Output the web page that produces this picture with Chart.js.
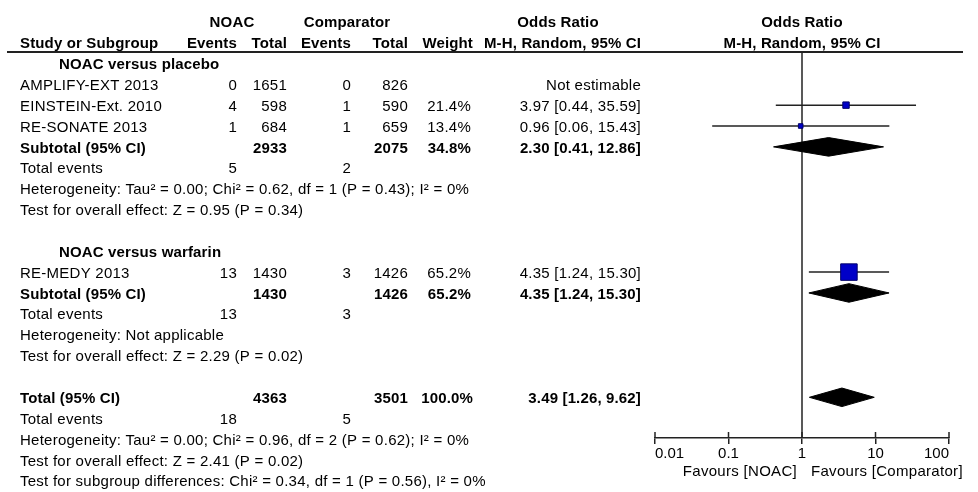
<!DOCTYPE html>
<html><head><meta charset="utf-8">
<script src="https://cdn.jsdelivr.net/npm/chart.js@4.4.1/dist/chart.umd.min.js"></script>
<style>html,body{margin:0;padding:0;background:#fff;}canvas{display:block;}</style>
</head><body>
<canvas id="c" width="978" height="492"></canvas>
<script>
// ---------- data ----------
const studyNames   = ['AMPLIFY-EXT 2013', 'EINSTEIN-Ext. 2010', 'RE-SONATE 2013', 'RE-MEDY 2013'];
const noacEvents   = [0, 4, 1, 13];
const noacTotal    = [1651, 598, 684, 1430];
const compEvents   = [0, 1, 1, 3];
const compTotal    = [826, 590, 659, 1426];
const studyWeight  = [null, 21.4, 13.4, 65.2];
const studyOR      = [null, 3.97, 0.96, 4.35];
const studyLo      = [null, 0.44, 0.06, 1.24];
const studyHi      = [null, 35.59, 15.43, 15.30];

const groupTitles      = ['NOAC versus placebo', 'NOAC versus warfarin'];
const groupStudies     = [[0, 1, 2], [3]];
const subNoacTotal     = [2933, 1430];
const subCompTotal     = [2075, 1426];
const subWeight        = [34.8, 65.2];
const subOR            = [2.30, 4.35];
const subLo            = [0.41, 1.24];
const subHi            = [12.86, 15.30];
const subNoacEvents    = [5, 13];
const subCompEvents    = [2, 3];
const subHetero        = ['Heterogeneity: Tau\u00B2 = 0.00; Chi\u00B2 = 0.62, df = 1 (P = 0.43); I\u00B2 = 0%', 'Heterogeneity: Not applicable'];
const subOverall       = ['Test for overall effect: Z = 0.95 (P = 0.34)', 'Test for overall effect: Z = 2.29 (P = 0.02)'];

const totalNoacTotal   = 4363;
const totalCompTotal   = 3501;
const totalWeight      = 100.0;
const totalOR          = 3.49;
const totalLo          = 1.26;
const totalHi          = 9.62;
const totalNoacEvents  = 18;
const totalCompEvents  = 5;
const totalHetero      = 'Heterogeneity: Tau\u00B2 = 0.00; Chi\u00B2 = 0.96, df = 2 (P = 0.62); I\u00B2 = 0%';
const totalOverall     = 'Test for overall effect: Z = 2.41 (P = 0.02)';
const subgroupDiff     = 'Test for subgroup differences: Chi\u00B2 = 0.34, df = 1 (P = 0.56), I\u00B2 = 0%';

const tickValues = [0.01, 0.1, 1, 10, 100];
const tickLabels = ['0.01', '0.1', '1', '10', '100'];
const favoursLeft  = 'Favours [NOAC]';
const favoursRight = 'Favours [Comparator]';

// ---------- layout / style ----------
const FONT = '"Liberation Sans", Arial, sans-serif';
const FS = 15;
const TEXT_DY = 1.5;
const COL = { name: 20, groupTitle: 59, nEv: 237, nTot: 287, cEv: 351, cTot: 408, wt: 471, or: 641 };
const DIAMOND_HALF = 0.445;

const fmtOR = (e, l, h) => e.toFixed(2) + ' [' + l.toFixed(2) + ', ' + h.toFixed(2) + ']';
const fmtW = w => w.toFixed(1) + '%';

// ---------- build rows ----------
const rows = [];
const studyRow = [], subRow = [];
let r = 0;
groupTitles.forEach((title, g) => {
  rows.push({ row: r, cells: [{ text: title, x: COL.groupTitle, align: 'left', bold: true }] }); r++;
  groupStudies[g].forEach(i => {
    studyRow[i] = r;
    rows.push({ row: r, cells: [
      { text: studyNames[i], x: COL.name, align: 'left' },
      { text: String(noacEvents[i]), x: COL.nEv, align: 'right' },
      { text: String(noacTotal[i]), x: COL.nTot, align: 'right' },
      { text: String(compEvents[i]), x: COL.cEv, align: 'right' },
      { text: String(compTotal[i]), x: COL.cTot, align: 'right' },
      { text: studyWeight[i] == null ? '' : fmtW(studyWeight[i]), x: COL.wt, align: 'right' },
      { text: studyOR[i] == null ? 'Not estimable' : fmtOR(studyOR[i], studyLo[i], studyHi[i]), x: COL.or, align: 'right' }
    ]}); r++;
  });
  subRow[g] = r;
  rows.push({ row: r, cells: [
    { text: 'Subtotal (95% CI)', x: COL.name, align: 'left', bold: true },
    { text: String(subNoacTotal[g]), x: COL.nTot, align: 'right', bold: true },
    { text: String(subCompTotal[g]), x: COL.cTot, align: 'right', bold: true },
    { text: fmtW(subWeight[g]), x: COL.wt, align: 'right', bold: true },
    { text: fmtOR(subOR[g], subLo[g], subHi[g]), x: COL.or, align: 'right', bold: true }
  ]}); r++;
  rows.push({ row: r, cells: [
    { text: 'Total events', x: COL.name, align: 'left' },
    { text: String(subNoacEvents[g]), x: COL.nEv, align: 'right' },
    { text: String(subCompEvents[g]), x: COL.cEv, align: 'right' }
  ]}); r++;
  rows.push({ row: r, cells: [{ text: subHetero[g], x: COL.name, align: 'left' }] }); r++;
  rows.push({ row: r, cells: [{ text: subOverall[g], x: COL.name, align: 'left' }] }); r++;
  r++; // blank
});
const totalRow = r;
rows.push({ row: r, cells: [
  { text: 'Total (95% CI)', x: COL.name, align: 'left', bold: true },
  { text: String(totalNoacTotal), x: COL.nTot, align: 'right', bold: true },
  { text: String(totalCompTotal), x: COL.cTot, align: 'right', bold: true },
  { text: fmtW(totalWeight), x: COL.wt + 2, align: 'right', bold: true },
  { text: fmtOR(totalOR, totalLo, totalHi), x: COL.or, align: 'right', bold: true }
]}); r++;
rows.push({ row: r, cells: [
  { text: 'Total events', x: COL.name, align: 'left' },
  { text: String(totalNoacEvents), x: COL.nEv, align: 'right' },
  { text: String(totalCompEvents), x: COL.cEv, align: 'right' }
]}); r++;
rows.push({ row: r, cells: [{ text: totalHetero, x: COL.name, align: 'left' }] }); r++;
rows.push({ row: r, cells: [{ text: totalOverall, x: COL.name, align: 'left' }] }); r++;
rows.push({ row: r, cells: [{ text: subgroupDiff, x: COL.name, align: 'left' }] }); r++;

// header rows
rows.push({ row: -2, cells: [
  { text: 'NOAC', x: 232, align: 'center', bold: true },
  { text: 'Comparator', x: 347, align: 'center', bold: true },
  { text: 'Odds Ratio', x: 558, align: 'center', bold: true },
  { text: 'Odds Ratio', x: 'plot', align: 'center', bold: true }
]});
rows.push({ row: -1, cells: [
  { text: 'Study or Subgroup', x: COL.name, align: 'left', bold: true },
  { text: 'Events', x: COL.nEv, align: 'right', bold: true },
  { text: 'Total', x: COL.nTot, align: 'right', bold: true },
  { text: 'Events', x: COL.cEv, align: 'right', bold: true },
  { text: 'Total', x: COL.cTot, align: 'right', bold: true },
  { text: 'Weight', x: COL.wt + 2, align: 'right', bold: true },
  { text: 'M-H, Random, 95% CI', x: COL.or, align: 'right', bold: true },
  { text: 'M-H, Random, 95% CI', x: 'plot', align: 'center', bold: true }
]});

// ---------- datasets ----------
const datasets = [];
studyNames.forEach((n, i) => {
  if (studyOR[i] == null) return;
  datasets.push({
    type: 'line', data: [{ x: studyLo[i], y: studyRow[i] }, { x: studyHi[i], y: studyRow[i] }],
    borderColor: '#222', borderWidth: 1.5, pointRadius: 0, fill: false, order: 3
  });
});
const sqData = [], sqRadius = [];
studyNames.forEach((n, i) => {
  if (studyOR[i] == null) return;
  sqData.push({ x: studyOR[i], y: studyRow[i] });
  sqRadius.push((1.5 + studyWeight[i] * 0.23) / Math.SQRT2);
});
datasets.push({
  type: 'scatter', data: sqData, pointStyle: 'rect', pointRadius: sqRadius, pointHoverRadius: sqRadius,
  backgroundColor: '#0000c8', borderColor: '#00006a', borderWidth: 1, order: 1
});
function diamond(est, lo, hi, row) {
  return {
    type: 'line', showLine: true, fill: 'shape', tension: 0,
    data: [{ x: lo, y: row }, { x: est, y: row - DIAMOND_HALF }, { x: hi, y: row }, { x: est, y: row + DIAMOND_HALF }, { x: lo, y: row }],
    borderColor: '#000', backgroundColor: '#000', borderWidth: 1, pointRadius: 0, order: 2
  };
}
groupTitles.forEach((t, g) => datasets.push(diamond(subOR[g], subLo[g], subHi[g], subRow[g])));
datasets.push(diamond(totalOR, totalLo, totalHi, totalRow));

// ---------- plugin ----------
const forestPlugin = {
  id: 'forest',
  beforeDatasetsDraw(chart) {
    const { ctx, chartArea, scales } = chart;
    const x1 = scales.x.getPixelForValue(1);
    ctx.save();
    ctx.strokeStyle = '#222'; ctx.lineWidth = 1.5;
    ctx.beginPath(); ctx.moveTo(x1, chartArea.top); ctx.lineTo(x1, chartArea.bottom); ctx.stroke();
    ctx.restore();
  },
  afterDraw(chart) {
    const { ctx, chartArea, scales } = chart;
    const x1 = scales.x.getPixelForValue(1);
    ctx.save();
    ctx.strokeStyle = '#222'; ctx.lineWidth = 2;
    ctx.beginPath(); ctx.moveTo(7, chartArea.top); ctx.lineTo(963, chartArea.top); ctx.stroke();
    ctx.lineWidth = 1.5;
    tickValues.forEach(v => {
      const px = scales.x.getPixelForValue(v);
      ctx.beginPath(); ctx.moveTo(px, chartArea.bottom - 6); ctx.lineTo(px, chartArea.bottom); ctx.stroke();
    });
    ctx.fillStyle = '#000';
    ctx.textBaseline = 'middle';
    rows.forEach(rw => {
      const py = scales.y.getPixelForValue(rw.row) + TEXT_DY;
      rw.cells.forEach(c => {
        ctx.font = (c.bold ? 'bold ' : '') + FS + 'px ' + FONT;
        ctx.letterSpacing = c.bold ? '0.15px' : '0.25px';
        ctx.textAlign = c.align;
        ctx.fillText(c.text, c.x === 'plot' ? x1 : c.x, py);
      });
    });
    ctx.font = FS + 'px ' + FONT;
    ctx.letterSpacing = '0.3px';
    const fy = chartArea.bottom + 34;
    ctx.textAlign = 'right'; ctx.fillText(favoursLeft, x1 - 5, fy);
    ctx.textAlign = 'left'; ctx.fillText(favoursRight, x1 + 9, fy);
    ctx.restore();
  }
};

new Chart(document.getElementById('c'), {
  type: 'scatter',
  data: { datasets },
  options: {
    responsive: false, animation: false, devicePixelRatio: 1,
    layout: { padding: { left: 655, right: 29, top: 52, bottom: 0 }, autoPadding: false },
    plugins: { legend: { display: false }, tooltip: { enabled: false } },
    scales: {
      x: {
        type: 'logarithmic', min: 0.01, max: 100,
        afterBuildTicks: axis => { axis.ticks = tickValues.map(v => ({ value: v })); },
        afterFit: s => { s.height = 54; },
        border: { display: true, color: '#222', width: 1.5 },
        grid: { display: true, drawOnChartArea: false, drawTicks: true, tickLength: 6, color: '#222', lineWidth: 1.5 },
        ticks: {
          align: 'inner', padding: 1, color: '#000', font: { family: FONT, size: FS }, maxRotation: 0, autoSkip: false,
          callback: (v, i) => tickLabels[i]
        }
      },
      y: { type: 'linear', display: false, reverse: true, min: -0.546, max: 17.95 }
    }
  },
  plugins: [forestPlugin]
});
</script>
</body></html>
